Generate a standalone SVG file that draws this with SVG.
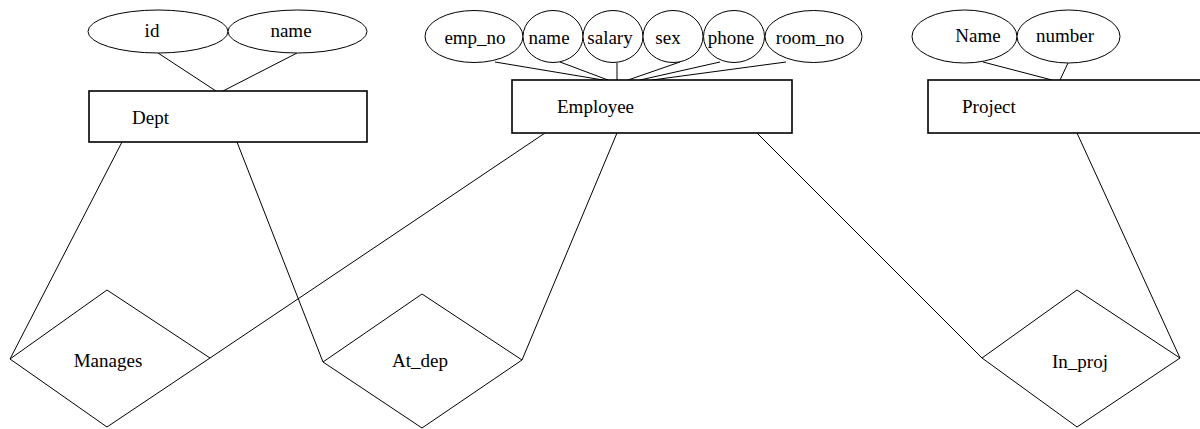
<svg xmlns="http://www.w3.org/2000/svg" width="1200" height="429" viewBox="0 0 1200 429">
<style>
  .bg { fill: #ffffff; }
  .ent { fill: #ffffff; stroke: #000000; stroke-width: 1.6; }
  .attr { fill: #ffffff; stroke: #000000; stroke-width: 1; }
  .rel { fill: none; stroke: #000000; stroke-width: 1; }
  .conn line { stroke: #000000; stroke-width: 1; }
  .t { font-family: 'Liberation Serif', 'Times New Roman', 'DejaVu Serif', serif; font-size: 19px; fill: #000000; }
  .c { text-anchor: middle; }
</style>
<rect class="bg" x="0" y="0" width="1200" height="429"/>

<g id="connectors" class="conn">
  <line x1="158" y1="53" x2="216" y2="91"/>
  <line x1="297" y1="53" x2="223" y2="91"/>
  <line x1="495" y1="62" x2="603" y2="80"/>
  <line x1="560" y1="62" x2="608" y2="80"/>
  <line x1="617" y1="63" x2="617" y2="80"/>
  <line x1="680" y1="62" x2="628" y2="80"/>
  <line x1="720" y1="62" x2="640" y2="80"/>
  <line x1="786" y1="62" x2="652" y2="80"/>
  <line x1="983" y1="62" x2="1052" y2="80"/>
  <line x1="1068" y1="63" x2="1060" y2="80"/>
  <line x1="122" y1="142" x2="10" y2="359"/>
  <line x1="237" y1="142" x2="323" y2="362"/>
  <line x1="545" y1="133" x2="210" y2="358"/>
  <line x1="617" y1="133" x2="522" y2="360"/>
  <line x1="757" y1="133" x2="982" y2="358"/>
  <line x1="1077" y1="133" x2="1180" y2="358"/>
</g>

<g id="attr-dept-id"><ellipse class="attr" cx="158" cy="31.5" rx="70" ry="21.5"/><text class="t c" font-family="Liberation Serif, serif" x="152" y="37">id</text></g>
<g id="attr-dept-name"><ellipse class="attr" cx="297.5" cy="31.5" rx="69.5" ry="21.5"/><text class="t c" font-family="Liberation Serif, serif" x="291" y="37">name</text></g>

<g id="attr-emp-no"><ellipse class="attr" cx="474" cy="36.5" rx="49" ry="26"/><text class="t c" font-family="Liberation Serif, serif" x="475" y="44">emp_no</text></g>
<g id="attr-emp-name"><ellipse class="attr" cx="553" cy="36.5" rx="30" ry="26"/><text class="t c" font-family="Liberation Serif, serif" x="549" y="44">name</text></g>
<g id="attr-emp-salary"><ellipse class="attr" cx="613" cy="36.5" rx="30" ry="26"/><text class="t c" font-family="Liberation Serif, serif" x="610" y="44">salary</text></g>
<g id="attr-emp-sex"><ellipse class="attr" cx="673" cy="36.5" rx="30" ry="26"/><text class="t c" font-family="Liberation Serif, serif" x="668" y="44">sex</text></g>
<g id="attr-emp-phone"><ellipse class="attr" cx="734" cy="36.5" rx="30.5" ry="26"/><text class="t c" font-family="Liberation Serif, serif" x="731" y="44">phone</text></g>
<g id="attr-emp-room"><ellipse class="attr" cx="813.5" cy="36.5" rx="48.5" ry="26"/><text class="t c" font-family="Liberation Serif, serif" x="810" y="44">room_no</text></g>

<g id="attr-proj-name"><ellipse class="attr" cx="964.5" cy="36.5" rx="52.5" ry="26.5"/><text class="t c" font-family="Liberation Serif, serif" x="978" y="42">Name</text></g>
<g id="attr-proj-number"><ellipse class="attr" cx="1068.5" cy="36.5" rx="51.5" ry="26.5"/><text class="t c" font-family="Liberation Serif, serif" x="1065" y="42">number</text></g>

<g id="ent-dept"><rect class="ent" x="89" y="91" width="278" height="51"/><text class="t" font-family="Liberation Serif, serif" x="132" y="124">Dept</text></g>
<g id="ent-employee"><rect class="ent" x="512" y="80" width="280" height="53"/><text class="t" font-family="Liberation Serif, serif" x="557" y="113">Employee</text></g>
<g id="ent-project"><rect class="ent" x="928" y="80" width="290" height="53"/><text class="t" font-family="Liberation Serif, serif" x="962" y="113">Project</text></g>

<g id="rel-manages"><polygon class="rel" points="10,359 107,290 210,358 107,427"/><text class="t c" font-family="Liberation Serif, serif" x="108" y="367">Manages</text></g>
<g id="rel-atdep"><polygon class="rel" points="323,362 422,294 522,360 422,428"/><text class="t c" font-family="Liberation Serif, serif" x="420" y="367">At_dep</text></g>
<g id="rel-inproj"><polygon class="rel" points="982,358 1077,290 1180,358 1077,427"/><text class="t c" font-family="Liberation Serif, serif" x="1080" y="368">In_proj</text></g>
</svg>
